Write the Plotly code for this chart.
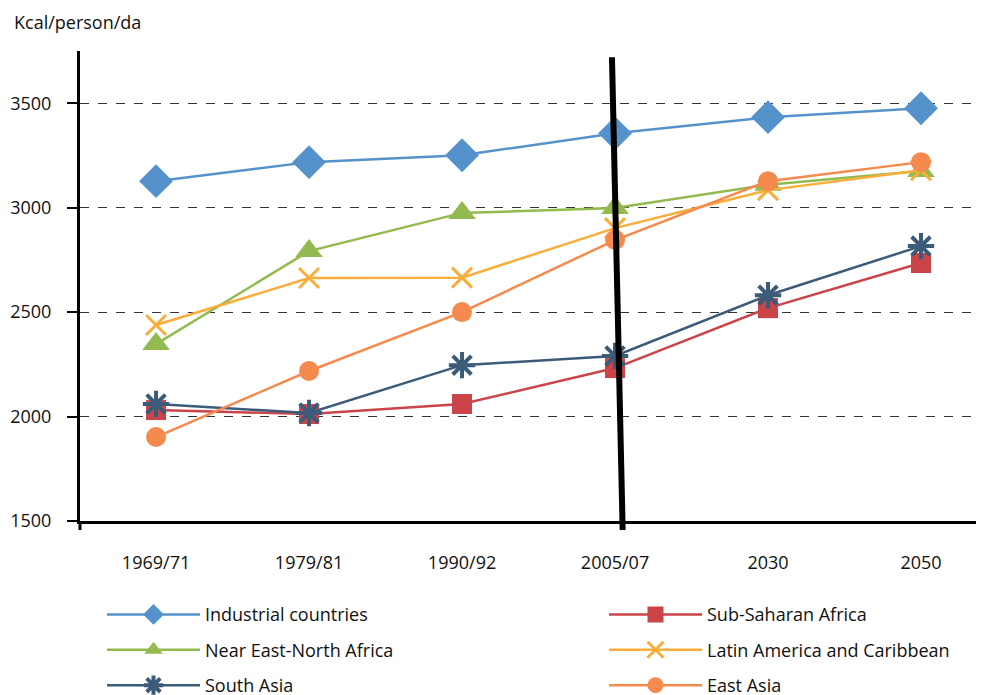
import plotly.graph_objects as go

periods = ["1969/71", "1979/81", "1990/92", "2005/07", "2030", "2050"]
industrial = [3127, 3218, 3251, 3356, 3433, 3476]
sub_saharan = [2031, 2012, 2060, 2232, 2519, 2735]
near_east = [2347, 2792, 2975, 2998, 3110, 3175]
latin_america = [2438, 2663, 2665, 2902, 3084, 3179]
south_asia = [2060, 2017, 2246, 2290, 2581, 2816]
east_asia = [1902, 2218, 2500, 2845, 3127, 3218]
y_ticks = [1500, 2000, 2500, 3000, 3500]

FONT = "Open Sans"
FS = 18
series = [
    ("Industrial countries", industrial, "#5592CB", "diamond", 26, None, "legend"),
    ("Sub-Saharan Africa", sub_saharan, "#CB444A", "square", 20, None, "legend2"),
    ("Near East-North Africa", near_east, "#93BA4F", "triangle-up", 24, None, "legend"),
    ("Latin America and Caribbean", latin_america, "#F9AE3B", "x-thin-open", 20, 3, "legend2"),
    ("South Asia", south_asia, "#3B5B79", "asterisk-open", 22, 4, "legend"),
    ("East Asia", east_asia, "#F58A4E", "circle", 20, None, "legend2"),
]

fig = go.Figure()
for name, vals, color, sym, size, lw, leg in series:
    marker = dict(symbol=sym, size=size, color=color)
    if lw:
        marker["line"] = dict(color=color, width=lw)
    else:
        marker["line"] = dict(width=0)
    fig.add_trace(go.Scatter(x=periods, y=vals, name=name, mode="lines+markers",
                             line=dict(color=color, width=2.5), marker=marker,
                             legend=leg, legendgroup=name))

xmin, xmax = -0.497, 5.464
ymin, ymax = 1500, 3750

def px(c):
    return (c - xmin) / (xmax - xmin)

def py(v):
    return (v - ymin) / (ymax - ymin)

PLOT_W = 912
leg_common = dict(orientation="v", yanchor="top", y=-0.16, xanchor="left",
                  itemwidth=93, tracegroupgap=9, bgcolor="rgba(0,0,0,0)",
                  font=dict(family=FONT, size=FS, color="#111"))

fig.update_layout(
    width=984, height=695,
    margin=dict(l=72, r=0, t=43, b=182, autoexpand=False),
    paper_bgcolor="white", plot_bgcolor="white",
    font=dict(family=FONT, size=FS, color="#111"),
    showlegend=True,
    legend=dict(x=22 / PLOT_W, **leg_common),
    legend2=dict(x=524 / PLOT_W, **leg_common),
    xaxis=dict(type="category", range=[xmin, xmax], showgrid=False, showline=True,
               linecolor="black", linewidth=3, ticks="", ticklabelstandoff=23,
               tickfont=dict(size=FS), automargin=False),
    yaxis=dict(range=[ymin, ymax], tickvals=y_ticks, showgrid=True, gridcolor="#333",
               griddash="dash", gridwidth=1, showline=True, linecolor="black", linewidth=3,
               ticks="outside", ticklen=10, tickwidth=2, tickcolor="black",
               ticklabelstandoff=12, tickfont=dict(size=FS), zeroline=False,
               automargin=False),
    annotations=[dict(text="Kcal/person/da", xref="paper", yref="paper", x=-68 / PLOT_W, y=1.0617,
                      xanchor="left", yanchor="middle", showarrow=False,
                      font=dict(family=FONT, size=FS, color="#111"))],
    shapes=[
        dict(type="line", xref="paper", yref="paper", x0=px(2.98), y0=py(3720),
             x1=px(3.05), y1=py(1457), line=dict(color="black", width=6), layer="above"),
        dict(type="line", xref="paper", yref="paper", x0=0, y0=0, x1=0, y1=py(1457),
             line=dict(color="black", width=3)),
    ],
)

fig.write_html("out.html")
